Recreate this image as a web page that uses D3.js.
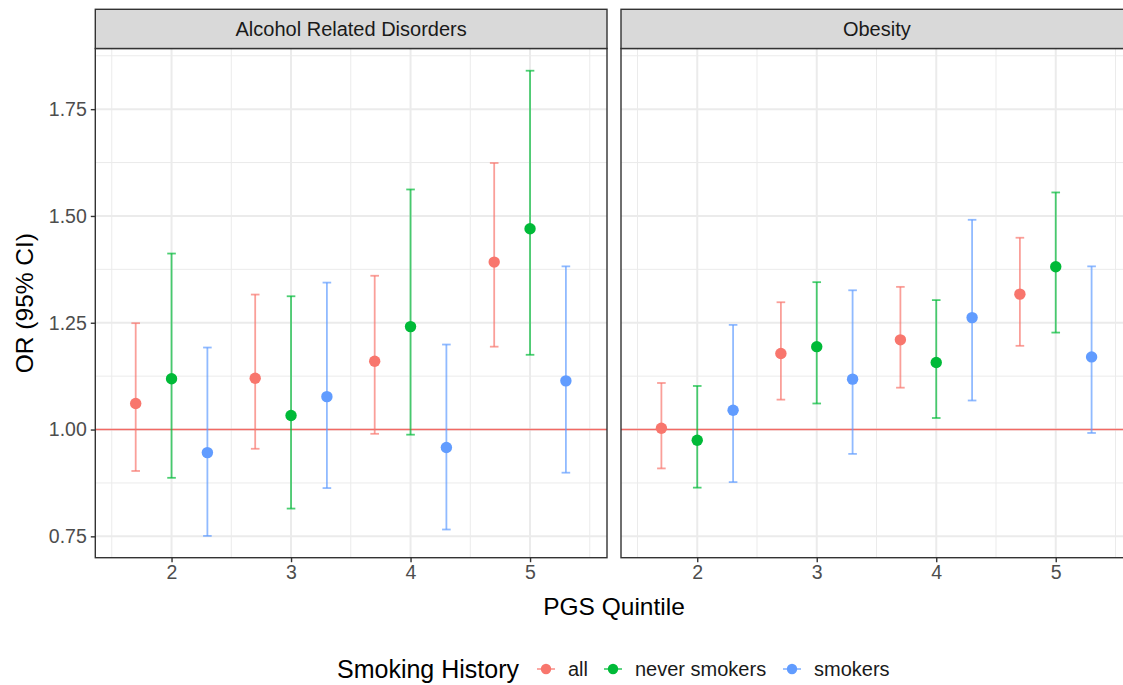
<!DOCTYPE html>
<html>
<head>
<meta charset="utf-8">
<script src="https://d3js.org/d3.v7.min.js"></script>
<style>
  body { margin: 0; background: #fff; }
  svg { display: block; font-family: "Liberation Sans", Arial, Helvetica, sans-serif; }
  .grid-major { stroke: #EBEBEB; stroke-width: 2; }
  .grid-minor { stroke: #EBEBEB; stroke-width: 1; }
  .axis path { display: none; }
  .axis line { stroke: #333; stroke-width: 1.4; }
  .axis text { fill: #4D4D4D; font-size: 19.5px; font-family: "Liberation Sans", Arial, sans-serif; }
  .strip rect { fill: #D9D9D9; stroke: #333; stroke-width: 1.4; }
  .strip text { fill: #1A1A1A; font-size: 20px; }
  .border { fill: none; stroke: #333; stroke-width: 1.4; }
</style>
</head>
<body>
<script>
  // data
  var facets = ["Alcohol Related Disorders", "Obesity"];
  var groups = ["all", "never smokers", "smokers"];
  var quintiles = [2, 3, 4, 5];
  var yTicks = [0.75, 1.00, 1.25, 1.50, 1.75];

  // rows: all, never smokers, smokers; columns: quintile 2..5
  var alcoholOR    = [[1.061, 1.120, 1.160, 1.392], [1.119, 1.033, 1.241, 1.470], [0.946, 1.077, 0.958, 1.114]];
  var alcoholLower = [[0.903, 0.955, 0.990, 1.194], [0.887, 0.815, 0.988, 1.175], [0.751, 0.863, 0.766, 0.899]];
  var alcoholUpper = [[1.249, 1.316, 1.360, 1.624], [1.412, 1.312, 1.562, 1.840], [1.192, 1.344, 1.199, 1.382]];

  var obesityOR    = [[1.003, 1.178, 1.210, 1.317], [0.975, 1.194, 1.157, 1.381], [1.045, 1.118, 1.262, 1.170]];
  var obesityLower = [[0.909, 1.070, 1.098, 1.196], [0.864, 1.061, 1.027, 1.227], [0.877, 0.943, 1.068, 0.992]];
  var obesityUpper = [[1.109, 1.298, 1.334, 1.449], [1.102, 1.345, 1.303, 1.555], [1.245, 1.326, 1.491, 1.382]];

  var colors = ["#F8766D", "#00BA38", "#619CFF"];
  var dodge = [-0.3, 0, 0.3];

  var width = 1123, height = 685;
  var panelW = 511.7,
      panelLeft = [95.3, 621],
      panelTop = 48.5, panelBottom = 557.7,
      stripTop = 9.3;

  var svg = d3.select("body").append("svg")
      .attr("width", width)
      .attr("height", height);

  var y = d3.scaleLinear()
      .domain([0.700, 1.892])
      .range([panelBottom, panelTop]);

  var color = d3.scaleOrdinal().domain(groups).range(colors);

  var panelData = [
    {name: facets[0], or: alcoholOR, lo: alcoholLower, hi: alcoholUpper},
    {name: facets[1], or: obesityOR, lo: obesityLower, hi: obesityUpper}
  ];

  panelData.forEach(function(p, i) {
    var x = d3.scaleLinear()
        .domain([1.362, 5.644])
        .range([panelLeft[i], panelLeft[i] + panelW]);

    var g = svg.append("g");

    var minorX = d3.range(1.5, 6, 1),
        minorY = yTicks.map(d => d + 0.125);

    g.selectAll(".mx").data(minorX).enter().append("line")
        .attr("class", "grid-minor")
        .attr("x1", d => x(d)).attr("x2", d => x(d))
        .attr("y1", panelTop).attr("y2", panelBottom);
    g.selectAll(".my").data(minorY).enter().append("line")
        .attr("class", "grid-minor")
        .attr("x1", x.range()[0]).attr("x2", x.range()[1])
        .attr("y1", d => y(d)).attr("y2", d => y(d));
    g.selectAll(".gx").data(quintiles).enter().append("line")
        .attr("class", "grid-major")
        .attr("x1", d => x(d)).attr("x2", d => x(d))
        .attr("y1", panelTop).attr("y2", panelBottom);
    g.selectAll(".gy").data(yTicks).enter().append("line")
        .attr("class", "grid-major")
        .attr("x1", x.range()[0]).attr("x2", x.range()[1])
        .attr("y1", d => y(d)).attr("y2", d => y(d));

    // reference line at OR = 1
    g.append("line")
        .attr("x1", x.range()[0]).attr("x2", x.range()[1])
        .attr("y1", y(1)).attr("y2", y(1))
        .attr("stroke", "#F26A64")
        .attr("stroke-width", 1.6);

    var rows = [];
    groups.forEach(function(grp, gi) {
      quintiles.forEach(function(q, qi) {
        rows.push({group: grp, x: q + dodge[gi], or: p.or[gi][qi], lo: p.lo[gi][qi], hi: p.hi[gi][qi]});
      });
    });

    var bars = g.selectAll(".bar").data(rows).enter().append("g")
        .attr("stroke", d => color(d.group))
        .attr("stroke-opacity", 0.7)
        .attr("stroke-width", 1.8);
    bars.append("line")
        .attr("x1", d => x(d.x)).attr("x2", d => x(d.x))
        .attr("y1", d => y(d.lo)).attr("y2", d => y(d.hi));
    bars.append("line")
        .attr("x1", d => x(d.x) - 4.3).attr("x2", d => x(d.x) + 4.3)
        .attr("y1", d => y(d.lo)).attr("y2", d => y(d.lo));
    bars.append("line")
        .attr("x1", d => x(d.x) - 4.3).attr("x2", d => x(d.x) + 4.3)
        .attr("y1", d => y(d.hi)).attr("y2", d => y(d.hi));

    g.selectAll(".pt").data(rows).enter().append("circle")
        .attr("cx", d => x(d.x))
        .attr("cy", d => y(d.or))
        .attr("r", 5.7)
        .attr("fill", d => color(d.group));

    g.append("rect")
        .attr("class", "border")
        .attr("x", x.range()[0]).attr("y", panelTop)
        .attr("width", panelW).attr("height", panelBottom - panelTop);

    var strip = svg.append("g").attr("class", "strip");
    strip.append("rect")
        .attr("x", x.range()[0]).attr("y", stripTop)
        .attr("width", panelW).attr("height", panelTop - stripTop);
    strip.append("text")
        .attr("x", (x.range()[0] + x.range()[1]) / 2)
        .attr("y", (stripTop + panelTop) / 2)
        .attr("text-anchor", "middle")
        .attr("dy", "0.35em")
        .text(p.name);

    svg.append("g")
        .attr("class", "x axis")
        .attr("transform", `translate(0,${panelBottom})`)
        .call(d3.axisBottom(x).tickValues(quintiles).tickSize(4.5).tickPadding(3).tickFormat(d3.format("d")))
        .selectAll("text").attr("dy", "0.71em");

    if (i === 0) {
      svg.append("g")
          .attr("class", "y axis")
          .attr("transform", `translate(${x.range()[0]},0)`)
          .call(d3.axisLeft(y).tickValues(yTicks).tickSize(4.5).tickPadding(4).tickFormat(d3.format(".2f")));
    }
  });

  svg.append("text")
      .attr("x", 614)
      .attr("y", 606)
      .attr("text-anchor", "middle")
      .attr("dy", "0.35em")
      .attr("font-size", 24.5)
      .attr("fill", "#000")
      .text("PGS Quintile");

  svg.append("text")
      .attr("transform", `translate(24,${(panelTop + panelBottom) / 2}) rotate(-90)`)
      .attr("text-anchor", "middle")
      .attr("dy", "0.35em")
      .attr("font-size", 24.5)
      .attr("fill", "#000")
      .text("OR (95% CI)");

  // legend
  var legY = 669;
  var legend = svg.append("g");
  legend.append("text")
      .attr("x", 337).attr("y", legY)
      .attr("dy", "0.35em")
      .attr("font-size", 25)
      .attr("fill", "#000")
      .text("Smoking History");

  var keyX = [546, 613, 792];
  var labelX = [568, 635, 814];
  var keys = legend.selectAll(".key").data(groups).enter().append("g");
  keys.append("line")
      .attr("x1", (d, i) => keyX[i] - 9).attr("x2", (d, i) => keyX[i] + 9)
      .attr("y1", legY).attr("y2", legY)
      .attr("stroke", d => color(d)).attr("stroke-opacity", 0.7).attr("stroke-width", 1.8);
  keys.append("circle")
      .attr("cx", (d, i) => keyX[i]).attr("cy", legY)
      .attr("r", 5.2)
      .attr("fill", d => color(d));
  keys.append("text")
      .attr("x", (d, i) => labelX[i]).attr("y", legY)
      .attr("dy", "0.35em")
      .attr("font-size", 20)
      .attr("fill", "#1A1A1A")
      .text(d => d);
</script>
</body>
</html>
